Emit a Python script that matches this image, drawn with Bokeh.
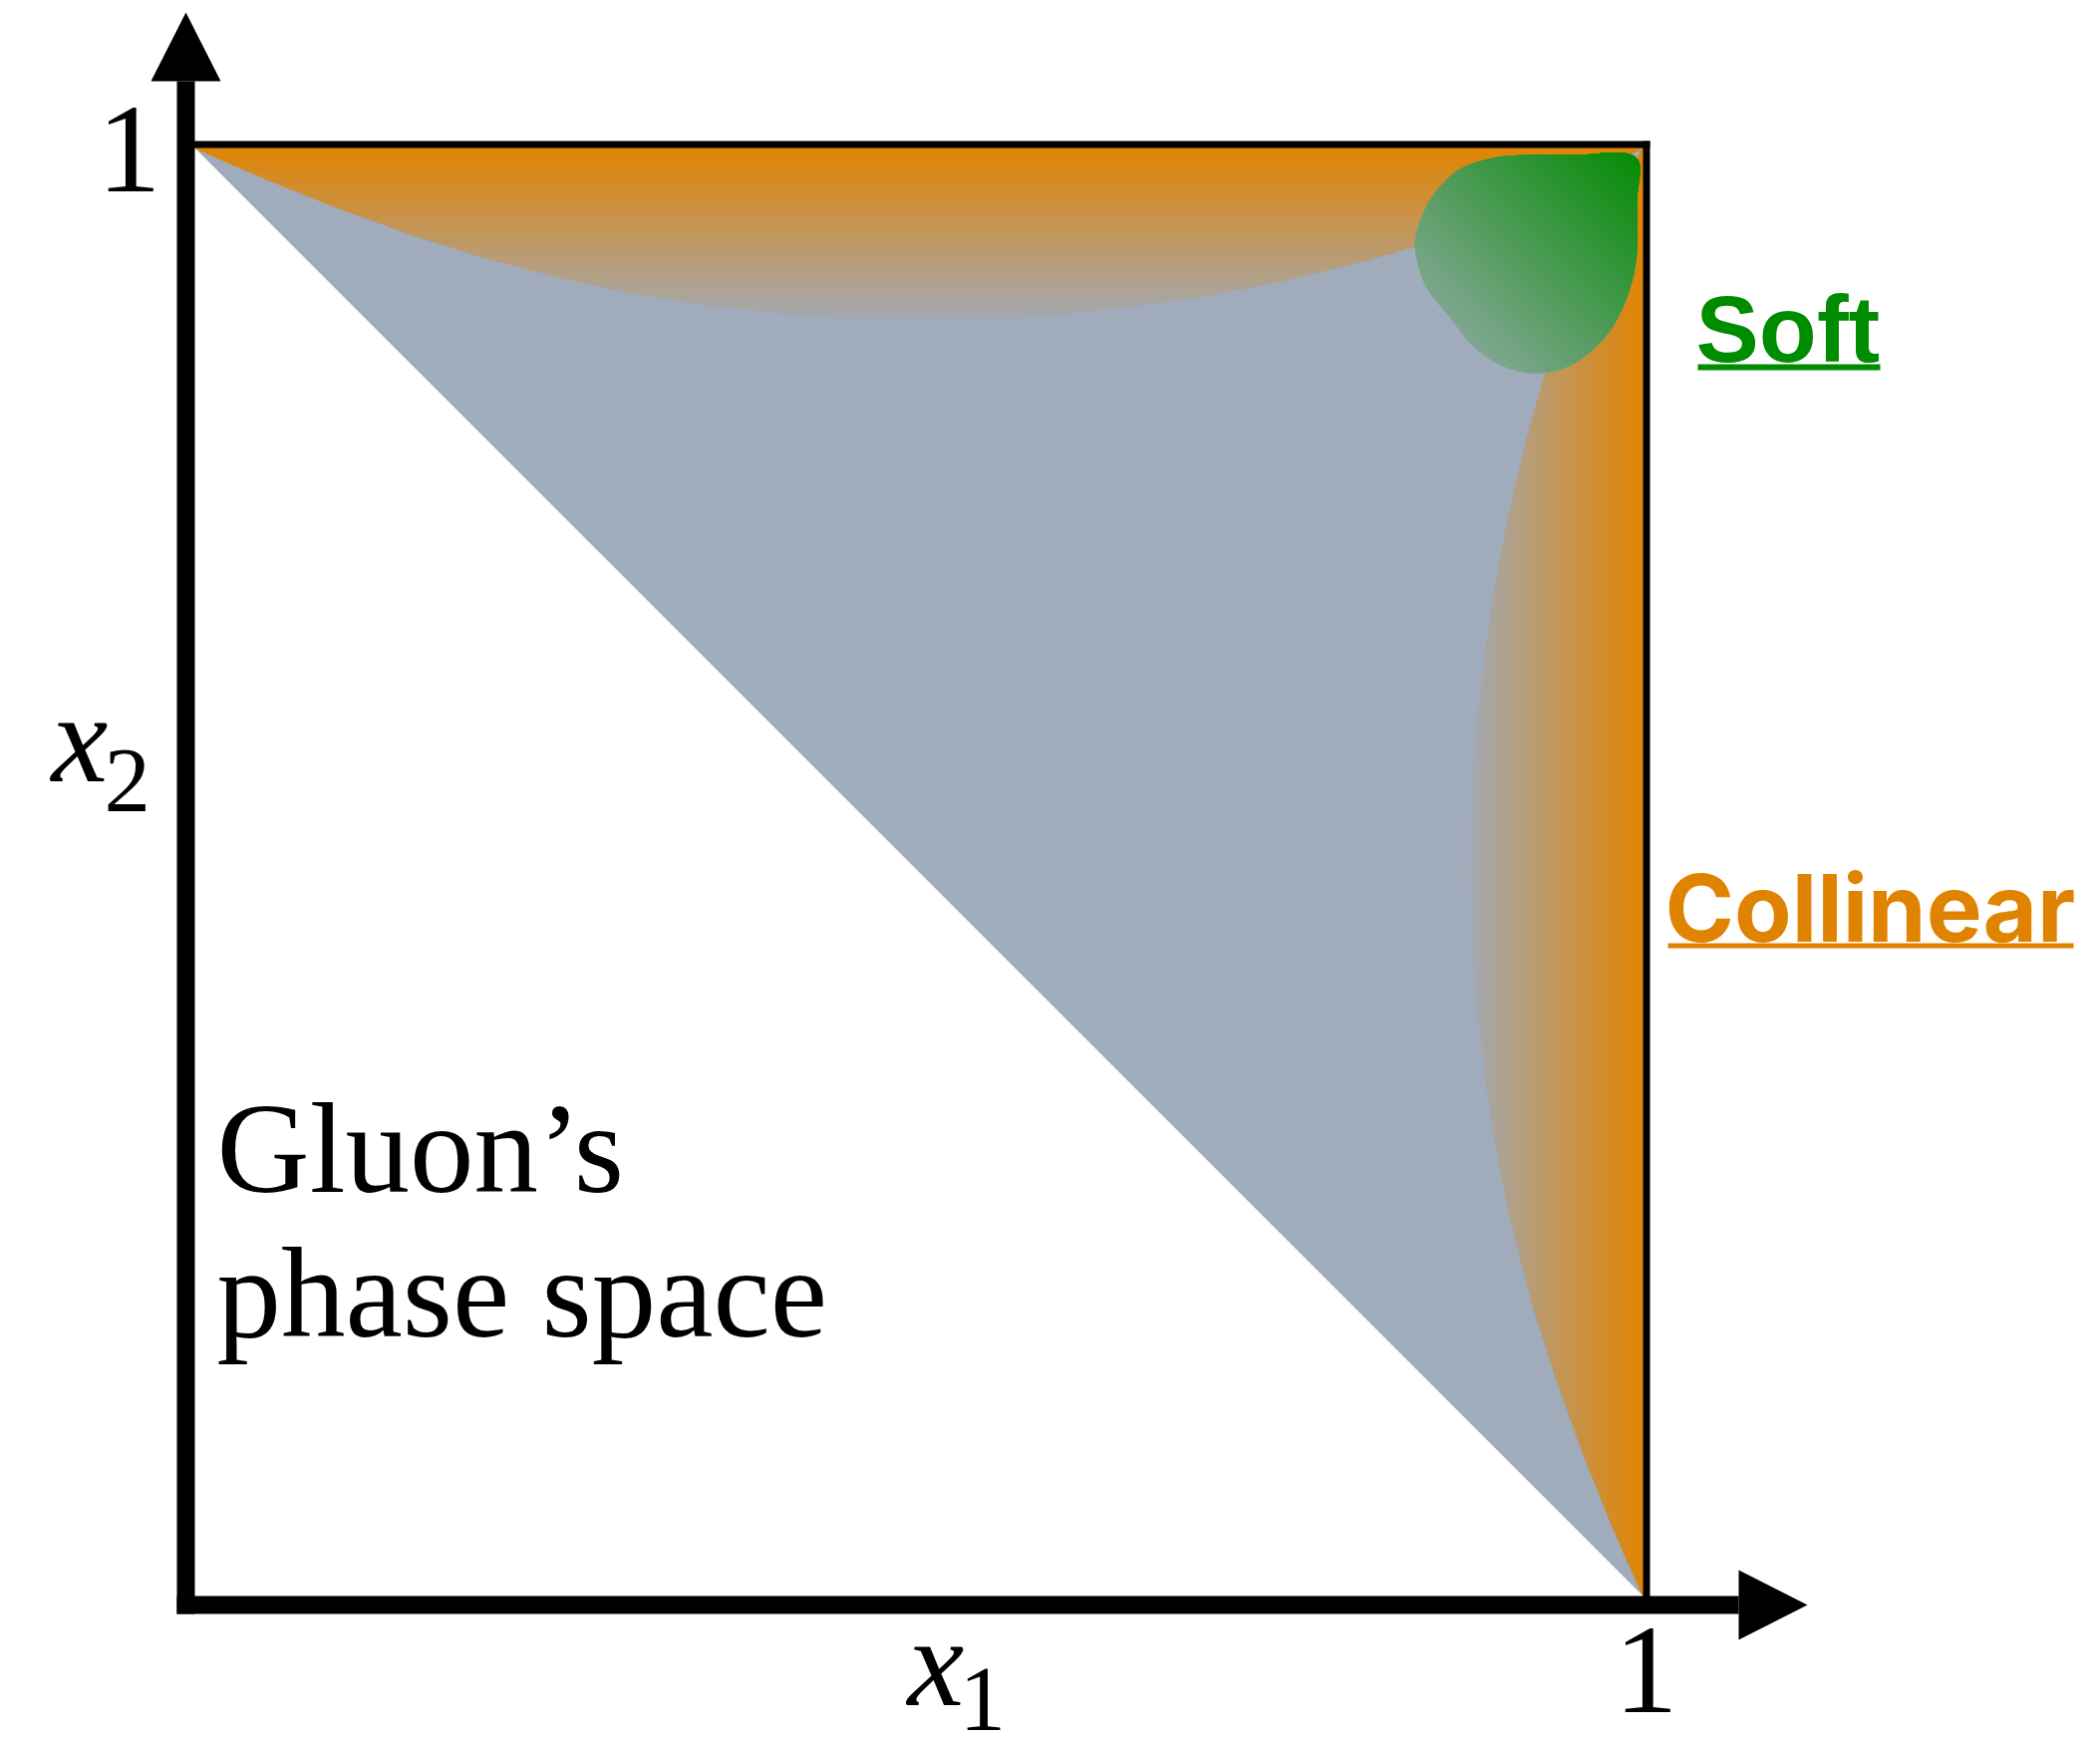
import numpy as np
from bokeh.plotting import figure
from bokeh.models import Range1d
from bokeh.core.properties import value
from bokeh.embed import file_html
from bokeh.resources import INLINE

# ---------------- content ----------------
tick_values = [1.0, 1.0]              # x1 = 1 (below), x2 = 1 (left)
tick_labels = ["1", "1"]
axis_symbols = ["x", "x"]
axis_subscripts = ["1", "2"]
region_lines = ["Gluon\u2019s", "phase space"]
soft_label = "Soft"
collinear_label = "Collinear"

# collinear band: depth of the band measured from the edge, vs position along the edge
band_pos = [0.00, 0.05, 0.10, 0.15, 0.20, 0.25, 0.30, 0.35, 0.40, 0.45, 0.50,
            0.55, 0.60, 0.65, 0.70, 0.75, 0.80, 0.85, 0.90, 0.95, 1.00]
band_depth = [0.000, 0.022, 0.042, 0.060, 0.076, 0.089, 0.100, 0.108, 0.114, 0.118, 0.120,
              0.119, 0.115, 0.109, 0.102, 0.092, 0.080, 0.066, 0.047, 0.025, 0.000]

# soft region outline (x1, x2)
soft_x = [0.9945, 0.9532, 0.9188, 0.8959, 0.8729, 0.8546, 0.8443, 0.8431, 0.8500, 0.8649,
          0.8694, 0.8821, 0.9028, 0.9279, 0.9532, 0.9761, 0.9899, 0.9957, 0.9957]
soft_y = [0.9940, 0.9952, 0.9952, 0.9929, 0.9848, 0.9665, 0.9436, 0.9275, 0.9045, 0.8851,
          0.8794, 0.8633, 0.8495, 0.8445, 0.8518, 0.8725, 0.9000, 0.9275, 0.9620]

# ---------------- styles ----------------
ORANGE = (224, 132, 4)
GREY = (160, 171, 187)
GREEN_DARK = (6, 140, 6)
GREEN_LIGHT = (128, 166, 145)
GRAD_DEPTH = 0.125

PX = 1453.0                 # pixels per unit
W, H = 2100, 1740
X0_PX, Y0_PX = 195, 1601    # canvas pixel of the origin (from left / from top)
BASE_SHIFT = 0.35           # text baseline correction, in em


def px(v):
    return v / PX


def sx_(screen_x):
    return (screen_x - X0_PX) / PX


def ty(baseline, fs):
    return (Y0_PX - baseline + BASE_SHIFT * fs) / PX


def sy_(screen_y):
    return (Y0_PX - screen_y) / PX


def hexc(c):
    return "#%02x%02x%02x" % tuple(int(round(v)) for v in c)


def lerp(a, b, t):
    t = min(max(t, 0.0), 1.0)
    return tuple(a[i] + (b[i] - a[i]) * t for i in range(3))


def clip_le(xs, ys, fv):
    """Sutherland-Hodgman clip of polygon to half plane fv <= 0."""
    ox, oy = [], []
    n = len(xs)
    for i in range(n):
        j = i - 1
        fi, fj = fv[i], fv[j]
        if fi <= 0:
            if fj > 0:
                a = fj / (fj - fi)
                ox.append(xs[j] + a * (xs[i] - xs[j]))
                oy.append(ys[j] + a * (ys[i] - ys[j]))
            ox.append(xs[i])
            oy.append(ys[i])
        elif fj <= 0:
            a = fj / (fj - fi)
            ox.append(xs[j] + a * (xs[i] - xs[j]))
            oy.append(ys[j] + a * (ys[i] - ys[j]))
    return ox, oy


def catmull_closed(x, y, sub=12):
    x = np.asarray(x); y = np.asarray(y)
    n = len(x)
    ox, oy = [], []
    for i in range(n):
        p0 = np.array([x[i - 1], y[i - 1]])
        p1 = np.array([x[i], y[i]])
        p2 = np.array([x[(i + 1) % n], y[(i + 1) % n]])
        p3 = np.array([x[(i + 2) % n], y[(i + 2) % n]])
        for s in np.linspace(0, 1, sub, endpoint=False):
            s2, s3 = s * s, s * s * s
            pt = 0.5 * ((2 * p1) + (-p0 + p2) * s + (2 * p0 - 5 * p1 + 4 * p2 - p3) * s2
                        + (-p0 + 3 * p1 - 3 * p2 + p3) * s3)
            ox.append(pt[0]); oy.append(pt[1])
    return np.array(ox), np.array(oy)


p = figure(width=W, height=H,
           x_range=Range1d(-X0_PX / PX, (W - X0_PX) / PX),
           y_range=Range1d(-(H - Y0_PX) / PX, Y0_PX / PX),
           output_backend="svg", toolbar_location=None, min_border=0,
           x_axis_type=None, y_axis_type=None, title=None)
p.grid.visible = False
p.outline_line_color = None
p.background_fill_color = "white"
p.border_fill_color = "white"

# grey allowed region (triangle above the diagonal)
p.patch([0, 1, 1], [1, 1, 0], fill_color=hexc(GREY), line_color=None)

# collinear bands with gradients
u = np.linspace(0, 1, 601)
d = np.interp(u, band_pos, band_depth)
top_x, top_y = u[::-1], 1 - d[::-1]
right_x, right_y = 1 - d, u

N = 60
pxs, pys, pcs = [], [], []
for bx, by, depth_of in ((top_x, top_y, lambda X, Y: 1 - Y), (right_x, right_y, lambda X, Y: 1 - X)):
    dep = depth_of(bx, by)
    for k in range(N, 0, -1):
        t = GRAD_DEPTH * k / N
        cx, cy = clip_le(bx, by, dep - t)
        if len(cx) < 3:
            continue
        pxs.append(list(cx)); pys.append(list(cy))
        pcs.append(hexc(lerp(ORANGE, GREY, (k - 0.5) / N)))
p.patches(pxs, pys, fill_color=pcs, line_color=None)

# soft region blob with diagonal gradient
bx_, by_ = catmull_closed(soft_x, soft_y)
sval = (1 - bx_) + (1 - by_)
smin, smax = sval.min(), sval.max()
bxs, bys, bcs = [], [], []
NB = 50
for k in range(NB, 0, -1):
    t = smin + (smax - smin) * k / NB
    cx, cy = clip_le(bx_, by_, sval - t)
    if len(cx) < 3:
        continue
    bxs.append(list(cx)); bys.append(list(cy))
    bcs.append(hexc(lerp(GREEN_DARK, GREEN_LIGHT, (k - 0.5) / NB)))
p.patches(bxs, bys, fill_color=bcs, line_color=None)

# square edges x1 = 1 and x2 = 1
SQ = 7
p.segment(x0=[px(-9), 1 + px(SQ / 2)], y0=[1 + px(SQ / 2), px(-9)],
          x1=[1 + px(SQ), 1 + px(SQ / 2)], y1=[1 + px(SQ / 2), 1 + px(SQ)],
          line_width=SQ, line_color="black", line_cap="butt")

# axes with arrows
AX = 18
x_end, x_tip = sx_(1744), sx_(1813)
y_end, y_tip = sy_(81), sy_(12)
head = px(35)
p.segment(x0=[px(-AX), px(-AX / 2)], y0=[px(-AX / 2), px(-AX)],
          x1=[x_end, px(-AX / 2)], y1=[px(-AX / 2), y_end],
          line_width=AX, line_color="black", line_cap="butt")
p.patches([[x_end, x_tip, x_end], [px(-AX / 2) - head, px(-AX / 2), px(-AX / 2) + head]],
          [[px(-AX / 2) - head, px(-AX / 2), px(-AX / 2) + head], [y_end, y_tip, y_end]],
          fill_color="black", line_color=None)

serif = value("Liberation Serif")
FS_BIG = 128
FS_SUB = 93
# tick label "1" on the x1 axis (centred on x1 = 1)
p.text(x=[tick_values[0] + px(3)], y=[ty(1720, FS_BIG)], text=[tick_labels[0]],
       text_font=serif, text_font_size=value("%dpx" % FS_BIG), text_align="center",
       text_baseline="alphabetic", text_color="black")
# tick label "1" on the x2 axis (beside x2 = 1)
p.text(x=[sx_(97)], y=[tick_values[1] + ty(194, FS_BIG) - sy_(148)], text=[tick_labels[1]],
       text_font=serif, text_font_size=value("%dpx" % FS_BIG), text_align="left",
       text_baseline="alphabetic", text_color="black")

# axis names x1, x2
p.text(x=[sx_(910), sx_(51)], y=[ty(1712, FS_BIG), ty(785, FS_BIG)], text=axis_symbols,
       text_font=serif, text_font_style="italic", text_font_size=value("%dpx" % FS_BIG),
       text_align="left", text_baseline="alphabetic", text_color="black")
p.text(x=[sx_(962), sx_(104)], y=[ty(1738, FS_SUB), ty(816, FS_SUB)], text=axis_subscripts,
       text_font=serif, text_font_size=value("%dpx" % FS_SUB),
       text_align="left", text_baseline="alphabetic", text_color="black")

# region description
FS_REG = 129
p.text(x=[sx_(217)] * 2, y=[ty(1197, FS_REG), ty(1342, FS_REG)], text=region_lines,
       text_font=serif, text_font_size=value("%dpx" % FS_REG), text_align="left",
       text_baseline="alphabetic", text_color="black")

# Soft label
FS_SOFT = 95
p.text(x=[sx_(1701)], y=[ty(363, FS_SOFT)], text=[soft_label],
       text_font=value("Liberation Sans"), text_font_style="bold",
       text_font_size=value("%dpx" % FS_SOFT),
       text_align="left", text_baseline="alphabetic", text_color="#008c00")
p.segment(x0=[sx_(1703)], y0=[sy_(368)], x1=[sx_(1886)], y1=[sy_(368)],
          line_width=6, line_color="#008c00", line_cap="butt")

# Collinear label
FS_COL = 94
p.text(x=[sx_(1670)], y=[ty(943, FS_COL)], text=[collinear_label],
       text_font=value("Inter"), text_font_style="bold", text_font_size=value("%dpx" % FS_COL),
       text_align="left", text_baseline="alphabetic", text_color="#e08300")
p.segment(x0=[sx_(1673)], y0=[sy_(948.5)], x1=[sx_(2080)], y1=[sy_(948.5)],
          line_width=5, line_color="#e08300", line_cap="butt")

open("out.html", "w").write(file_html(p, INLINE))
